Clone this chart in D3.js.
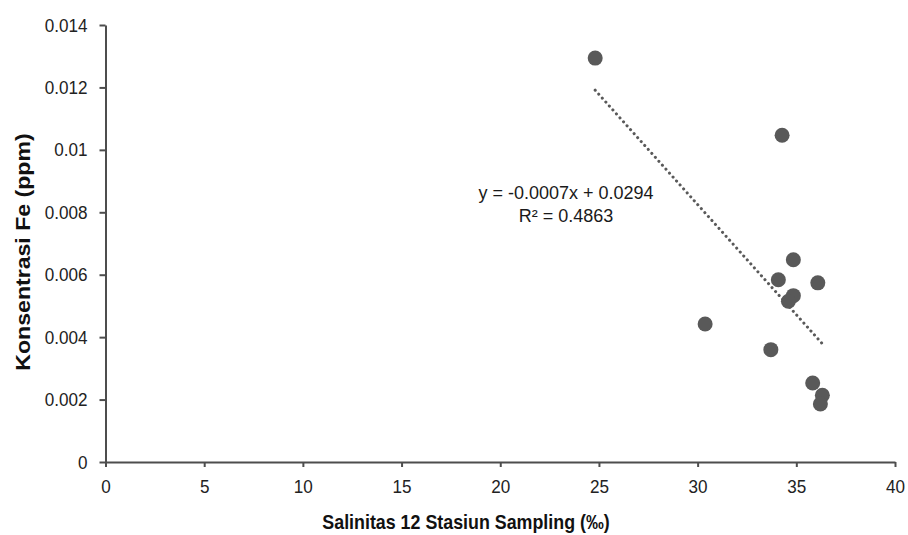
<!DOCTYPE html>
<html>
<head>
<meta charset="utf-8">
<script src="https://cdn.jsdelivr.net/npm/d3@7"></script>
<style>
	html, body { margin: 0; padding: 0; background: white; }
	#outer { width: 908px; height: 535px; }
</style>
</head>
<body>
<div id="outer"></div>
<script>
////////// DATA //////////
const salinity = [24.81, 34.28, 34.85, 34.09, 36.09, 34.85, 34.6, 30.38, 33.71, 35.83, 36.32, 36.22];
const ironPpm = [0.01294, 0.01047, 0.00648, 0.00584, 0.00574, 0.00533, 0.00515, 0.00442, 0.0036, 0.00253, 0.00214, 0.00186];
const xTicks = [0, 5, 10, 15, 20, 25, 30, 35, 40];
const yTicks = [0, 0.002, 0.004, 0.006, 0.008, 0.01, 0.012, 0.014];
const equationLines = ['y = -0.0007x + 0.0294', 'R² = 0.4863'];
const xTitle = 'Salinitas 12 Stasiun Sampling (‰)';
const yTitle = 'Konsentrasi Fe (ppm)';

////////// Hard Coded Defs //////////
const width = 908, height = 535;
const margin = {top: 25, left: 105.5, right: 13, bottom: 73};
const font = '"Liberation Sans", Arial, sans-serif';
const axisColor = '#4d4d4d';
const markColor = '#595959';
// the reference text is slightly condensed horizontally
const squeeze = 0.9;

const svg = d3.select('#outer').append('svg')
	.attr('width', width)
	.attr('height', height)
	.style('font-family', font);

const x = d3.scaleLinear().domain([0, 40]).range([margin.left, width - margin.right]);
const y = d3.scaleLinear().domain([0, 0.014]).range([height - margin.bottom, margin.top]);

// ********** AXES ********** //
const xAxis = svg.append('g')
	.attr('transform', `translate(0, ${y(0)})`)
	.call(d3.axisBottom(x).tickValues(xTicks).tickSize(5).tickSizeOuter(0).tickPadding(13).tickFormat(d3.format('d')));
const yAxis = svg.append('g')
	.attr('transform', `translate(${x(0)}, 0)`)
	.call(d3.axisLeft(y).tickValues(yTicks).tickSize(6).tickSizeOuter(0).tickPadding(12).tickFormat(d => d === 0 ? '0' : String(+d.toFixed(3))));

[xAxis, yAxis].forEach(ax => {
	ax.select('.domain').attr('stroke', axisColor).attr('stroke-width', 2);
	ax.selectAll('.tick line').attr('stroke', axisColor).attr('stroke-width', 2);
	ax.selectAll('.tick text')
		.attr('fill', '#222')
		.style('font-size', '19px')
		.style('font-family', font)
		.attr('x', function () { return (+d3.select(this).attr('x') || 0) / squeeze; })
		.attr('transform', `scale(${squeeze},1)`);
});

// ********** TITLES ********** //
svg.append('text')
	.attr('transform', `translate(466, 529) scale(0.85,1)`)
	.attr('text-anchor', 'middle')
	.attr('font-weight', 'bold')
	.style('font-size', '21px')
	.attr('fill', '#111')
	.text(xTitle);

svg.append('text')
	.attr('transform', `translate(30, 252) rotate(-90) scale(1.1,1)`)
	.attr('text-anchor', 'middle')
	.attr('font-weight', 'bold')
	.style('font-size', '21px')
	.attr('fill', '#111')
	.text(yTitle);

// ********** TRENDLINE (least squares of the points) ********** //
const mx = d3.mean(salinity), my = d3.mean(ironPpm);
let sxy = 0, sxx = 0;
salinity.forEach((sv, i) => { sxy += (sv - mx) * (ironPpm[i] - my); sxx += (sv - mx) ** 2; });
const slope = sxy / sxx;
const intercept = my - slope * mx;
const [xMin, xMax] = d3.extent(salinity);

svg.append('line')
	.attr('x1', x(xMin)).attr('y1', y(slope * xMin + intercept))
	.attr('x2', x(xMax)).attr('y2', y(slope * xMax + intercept))
	.attr('stroke', markColor)
	.attr('stroke-width', 3)
	.attr('stroke-linecap', 'round')
	.attr('stroke-dasharray', '0.1 5.2');

// ********** POINTS ********** //
svg.append('g').selectAll('circle')
	.data(salinity.map((sv, i) => [sv, ironPpm[i]]))
	.join('circle')
	.attr('cx', d => x(d[0]))
	.attr('cy', d => y(d[1]))
	.attr('r', 7.5)
	.attr('fill', markColor);

// ********** EQUATION ********** //
svg.append('g').selectAll('text')
	.data(equationLines)
	.join('text')
	.attr('x', 566)
	.attr('y', (d, i) => 199 + i * 23)
	.attr('text-anchor', 'middle')
	.style('font-size', '18px')
	.attr('fill', '#1a1a1a')
	.text(d => d);
</script>
</body>
</html>
